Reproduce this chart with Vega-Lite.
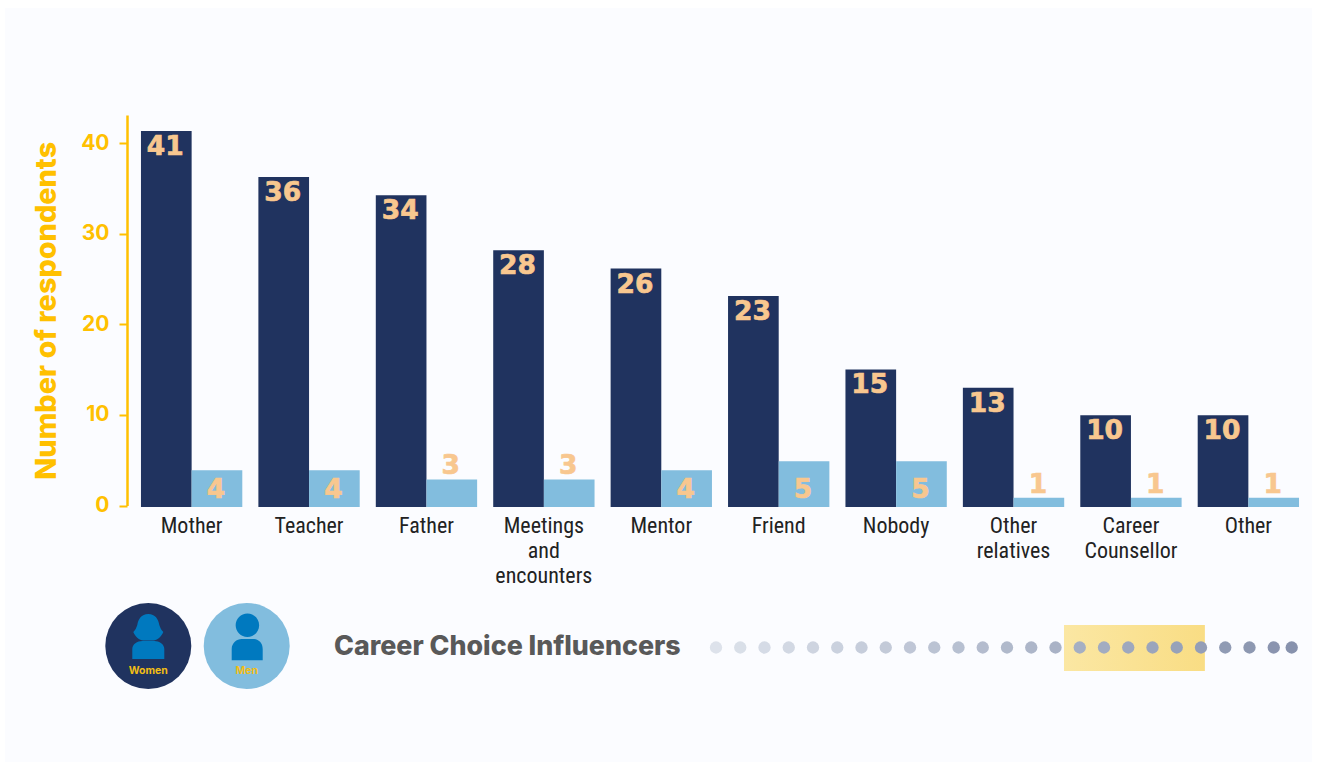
{
"$schema":"https://vega.github.io/schema/vega-lite/v6.json",
"width":1186,"height":392,
"autosize":{"type":"none"},
"padding":{"left":127,"top":115,"right":4,"bottom":255},
"background":"#ffffff",
"config":{"view":{"stroke":null}},
"datasets":{
"bars":[
{"influencer":"Mother","gender":"Women","respondents":41},{"influencer":"Mother","gender":"Men","respondents":4},
{"influencer":"Teacher","gender":"Women","respondents":36},{"influencer":"Teacher","gender":"Men","respondents":4},
{"influencer":"Father","gender":"Women","respondents":34},{"influencer":"Father","gender":"Men","respondents":3},
{"influencer":"Meetings and encounters","gender":"Women","respondents":28},{"influencer":"Meetings and encounters","gender":"Men","respondents":3},
{"influencer":"Mentor","gender":"Women","respondents":26},{"influencer":"Mentor","gender":"Men","respondents":4},
{"influencer":"Friend","gender":"Women","respondents":23},{"influencer":"Friend","gender":"Men","respondents":5},
{"influencer":"Nobody","gender":"Women","respondents":15},{"influencer":"Nobody","gender":"Men","respondents":5},
{"influencer":"Other relatives","gender":"Women","respondents":13},{"influencer":"Other relatives","gender":"Men","respondents":1},
{"influencer":"Career Counsellor","gender":"Women","respondents":10},{"influencer":"Career Counsellor","gender":"Men","respondents":1},
{"influencer":"Other","gender":"Women","respondents":10},{"influencer":"Other","gender":"Men","respondents":1}
],
"dots":[{"step":1},{"step":2},{"step":3},{"step":4},{"step":5},{"step":6},{"step":7},{"step":8},{"step":9},{"step":10},{"step":11},{"step":12},{"step":13},{"step":14},{"step":15},{"step":16},{"step":17},{"step":18},{"step":19},{"step":20},{"step":21},{"step":22},{"step":23},{"step":24},{"step":24.74}],
"badges":[{"gender":"Women"},{"gender":"Men"}],
"highlight":[{"from":15.35,"to":21.16}],
"panel":[{"from":0,"to":1}],
"heading":[{"step":-14.75,"label":"Career Choice Influencers"}]
},
"layer":[
{"data":{"name":"panel"},"mark":{"type":"rect","color":"#FBFCFF"},
 "encoding":{
  "x":{"field":"from","type":"quantitative","axis":null,"scale":{"domain":[0,1],"range":[-122,1185]}},
  "x2":{"field":"to"},
  "y":{"field":"from","type":"quantitative","axis":null,"scale":{"domain":[0,1],"range":[-107,647]}},
  "y2":{"field":"to"}}},
{"data":{"name":"bars"},"mark":{"type":"point","opacity":0},
 "encoding":{
  "x":{"field":"respondents","type":"quantitative","axis":null},
  "y":{"field":"respondents","type":"quantitative","title":"Number of respondents",
   "scale":{"domain":[0,43.1],"range":[390.5,0],"nice":false},
   "axis":{"zindex":1,"values":[0,10,20,30,40],"grid":false,"domainColor":"#FFC000","domainWidth":2.5,"tickColor":"#FFC000","tickWidth":2,"tickSize":8,
    "labelColor":"#FFC000","labelFont":"Inter","labelFontSize":21,"labelFontWeight":700,"labelPadding":10,
    "titleColor":"#FFC000","titleFont":"Inter","titleFontSize":28.8,"titleFontWeight":800,"titlePadding":19}}}},
{"data":{"name":"bars"},"mark":{"type":"bar"},
 "encoding":{
  "x":{"field":"influencer","type":"nominal","title":null,
   "sort":null,
   "scale":{"paddingInner":0.137,"paddingOuter":0.119},
   "axis":{"zindex":1,"labelAngle":0,"ticks":false,"domain":false,"labelFont":"'Roboto Condensed','Open Sans Condensed','DejaVu Sans Condensed',serif","labelFontSize":22,"labelColor":"#222222","labelPadding":8.5,"labelLineHeight":25,"labelLimit":200,"labelBaseline":"top",
    "labelExpr":"datum.label=='Meetings and encounters'?['Meetings','and','encounters']:datum.label=='Other relatives'?['Other','relatives']:datum.label=='Career Counsellor'?['Career','Counsellor']:datum.label"}},
  "xOffset":{"field":"gender","type":"nominal","sort":["Women","Men"]},
  "y":{"field":"respondents","type":"quantitative","axis":null,"scale":{"domain":[0,42.75],"nice":false}},
  "color":{"field":"gender","type":"nominal","legend":null,"scale":{"domain":["Women","Men"],"range":["#20335F","#82BDDE"]}}}},
{"data":{"name":"bars"},"transform":[{"filter":"datum.gender=='Women'"}],
 "mark":{"type":"text","font":"DejaVu Sans","fontSize":26.5,"fontWeight":700,"color":"#F8C78F","stroke":"#F8C78F","strokeWidth":0.7,"baseline":"middle","dy":16,"dx":-1},
 "encoding":{
  "x":{"field":"influencer","type":"nominal","axis":null,"sort":null,"scale":{"domain":["Mother","Teacher","Father","Meetings and encounters","Mentor","Friend","Nobody","Other relatives","Career Counsellor","Other"],"paddingInner":0.137,"paddingOuter":0.119}},
  "xOffset":{"field":"gender","type":"nominal","scale":{"domain":["Women","Men"]}},
  "y":{"field":"respondents","type":"quantitative","axis":null,"scale":{"domain":[0,42.75],"nice":false}},
  "text":{"field":"respondents","type":"quantitative"}}},
{"data":{"name":"bars"},"transform":[{"filter":"datum.gender=='Men' && datum.respondents>=4"}],
 "mark":{"type":"text","font":"DejaVu Sans","fontSize":26.5,"fontWeight":700,"color":"#F8C78F","stroke":"#F8C78F","strokeWidth":0.7,"baseline":"middle","dx":-1,"dy":1},
 "encoding":{
  "x":{"field":"influencer","type":"nominal","axis":null,"sort":null,"scale":{"domain":["Mother","Teacher","Father","Meetings and encounters","Mentor","Friend","Nobody","Other relatives","Career Counsellor","Other"],"paddingInner":0.137,"paddingOuter":0.119}},
  "xOffset":{"field":"gender","type":"nominal","scale":{"domain":["Women","Men"]}},
  "y":{"datum":2,"type":"quantitative","axis":null,"scale":{"domain":[0,42.75],"nice":false}},
  "text":{"field":"respondents","type":"quantitative"}}},
{"data":{"name":"bars"},"transform":[{"filter":"datum.gender=='Men' && datum.respondents<4"}],
 "mark":{"type":"text","font":"DejaVu Sans","fontSize":26.5,"fontWeight":700,"color":"#F8C78F","stroke":"#F8C78F","strokeWidth":0.7,"baseline":"middle","dy":-13,"dx":-1},
 "encoding":{
  "x":{"field":"influencer","type":"nominal","axis":null,"sort":null,"scale":{"domain":["Mother","Teacher","Father","Meetings and encounters","Mentor","Friend","Nobody","Other relatives","Career Counsellor","Other"],"paddingInner":0.137,"paddingOuter":0.119}},
  "xOffset":{"field":"gender","type":"nominal","scale":{"domain":["Women","Men"]}},
  "y":{"field":"respondents","type":"quantitative","axis":null,"scale":{"domain":[0,42.75],"nice":false}},
  "text":{"field":"respondents","type":"quantitative"}}},
{"data":{"name":"badges"},"mark":{"type":"point","shape":"circle","filled":true,"size":7396,"opacity":1},
 "encoding":{
  "x":{"field":"gender","type":"nominal","axis":null,"scale":{"type":"point","padding":0,"domain":["Women","Men"],"range":[21.3,119.7]}},
  "y":{"datum":0,"type":"quantitative","axis":null,"scale":{"domain":[-1,1],"range":[507,555]}},
  "color":{"field":"gender","type":"nominal","legend":null,"scale":{"domain":["Women","Men"],"range":["#20335F","#82BDDE"]}}}},
{"data":{"name":"badges"},"transform":[{"filter":"datum.gender=='Women'"}],
 "mark":{"type":"point","filled":true,"opacity":1,"size":4,"color":"#0079BF","shape":"M0 -32C-7 -32 -10 -27 -11 -21C-12 -18 -13 -16 -15 -14C-13 -9 -9 -6 -5 -5.5L5 -5.5C9 -6 13 -9 15 -14C13 -16 12 -18 11 -21C10 -27 7 -32 0 -32ZM-16 13L-16 3C-16 -2 -11 -5 -6 -5L6 -5C11 -5 16 -2 16 3L16 13Z"},
 "encoding":{
  "x":{"field":"gender","type":"nominal","axis":null,"scale":{"type":"point","padding":0,"domain":["Women","Men"],"range":[21.3,119.7]}},
  "y":{"datum":0,"type":"quantitative","axis":null,"scale":{"domain":[-1,1],"range":[507,555]}}}},
{"data":{"name":"badges"},"transform":[{"filter":"datum.gender=='Men'"}],
 "mark":{"type":"point","filled":true,"opacity":1,"size":4,"color":"#0079BF","shape":"M0.7 -32.5A11.7 11.7 0 1 0 0.7 -9A11.7 11.7 0 1 0 0.7 -32.5ZM-15 14.3L-15 3C-15 -3 -10 -7 -5 -7L6 -7C12 -7 16 -3 16 3L16 14.3Z"},
 "encoding":{
  "x":{"field":"gender","type":"nominal","axis":null,"scale":{"type":"point","padding":0,"domain":["Women","Men"],"range":[21.3,119.7]}},
  "y":{"datum":0,"type":"quantitative","axis":null,"scale":{"domain":[-1,1],"range":[507,555]}}}},
{"data":{"name":"badges"},"mark":{"type":"text","font":"Inter","fontSize":10.5,"fontWeight":700,"color":"#F2BE14","baseline":"middle","dy":24.5},
 "encoding":{
  "x":{"field":"gender","type":"nominal","axis":null,"scale":{"type":"point","padding":0,"domain":["Women","Men"],"range":[21.3,119.7]}},
  "y":{"datum":0,"type":"quantitative","axis":null,"scale":{"domain":[-1,1],"range":[507,555]}},
  "text":{"field":"gender","type":"nominal"}}},
{"data":{"name":"highlight"},"mark":{"type":"rect","color":{"gradient":"linear","x1":0,"y1":0,"x2":1,"y2":0,"stops":[{"offset":0,"color":"#FBE7A3"},{"offset":1,"color":"#F9DD84"}]}},
 "encoding":{
  "x":{"field":"from","type":"quantitative","axis":null,"scale":{"domain":[1,25],"range":[589,1171]}},
  "x2":{"field":"to"},
  "y":{"datum":-1,"type":"quantitative","axis":null,"scale":{"domain":[-1,1],"range":[510,556]}},
  "y2":{"datum":1}}},
{"data":{"name":"dots"},"mark":{"type":"point","shape":"circle","filled":true,"size":151,"opacity":1},
 "encoding":{
  "x":{"field":"step","type":"quantitative","axis":null,"scale":{"domain":[1,25],"range":[589,1171]}},
  "y":{"datum":0,"type":"quantitative","axis":null,"scale":{"domain":[-1,1],"range":[509,556]}},
  "color":{"field":"step","type":"quantitative","legend":null,"scale":{"domain":[1,24.74],"range":["#DDE2EB","#8792AD"]}}}},
{"data":{"name":"heading"},"mark":{"type":"text","font":"Inter","fontSize":26.8,"fontWeight":800,"color":"#595959","align":"left","baseline":"middle"},
 "encoding":{
  "x":{"field":"step","type":"quantitative","axis":null,"scale":{"domain":[1,25],"range":[589,1171]}},
  "y":{"datum":0,"type":"quantitative","axis":null,"scale":{"domain":[-1,1],"range":[508.5,554.5]}},
  "text":{"field":"label","type":"nominal"}}}
],
"resolve":{"scale":{"x":"independent","y":"independent","color":"independent","xOffset":"independent"},"axis":{"x":"independent","y":"independent"}}
}
